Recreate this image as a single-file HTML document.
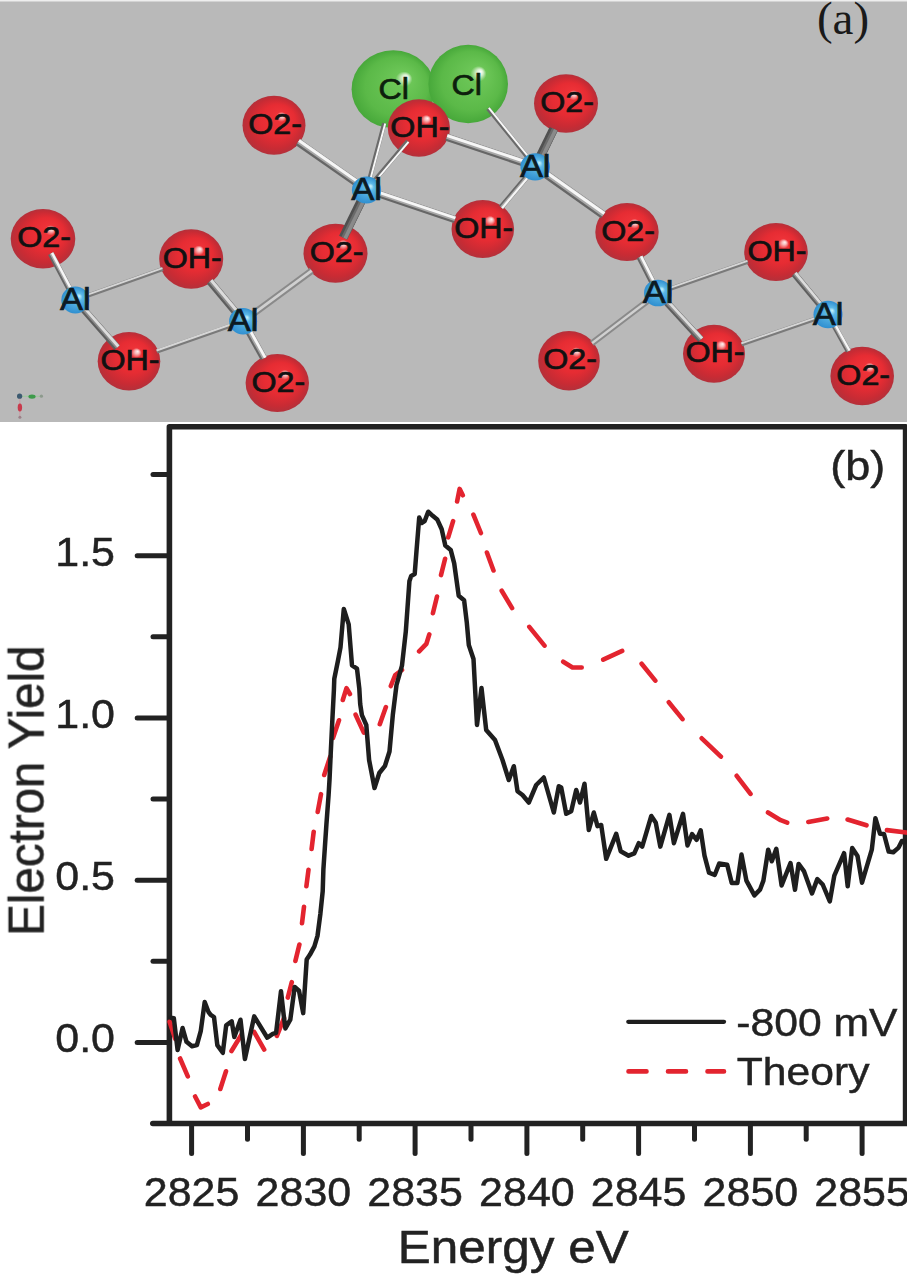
<!DOCTYPE html>
<html><head><meta charset="utf-8"><title>Figure</title>
<style>
html,body{margin:0;padding:0;background:#fff;}
body{width:907px;height:1280px;overflow:hidden;}
svg{display:block;font-family:"Liberation Sans",sans-serif;filter:blur(0.4px);}
</style></head>
<body>
<svg width="907" height="1280" viewBox="0 0 907 1280">
<defs>
<radialGradient id="go" cx="0.5" cy="0.5" r="0.5" fx="0.64" fy="0.33">
<stop offset="0" stop-color="#fff4f4"/>
<stop offset="0.07" stop-color="#f8b8b8"/>
<stop offset="0.17" stop-color="#ee3238"/>
<stop offset="0.55" stop-color="#e62c33"/>
<stop offset="0.85" stop-color="#c82b34"/>
<stop offset="1" stop-color="#b4303a"/>
</radialGradient>
<radialGradient id="gcl" cx="0.5" cy="0.5" r="0.5" fx="0.66" fy="0.34">
<stop offset="0" stop-color="#ffffff"/>
<stop offset="0.08" stop-color="#d8f0cf"/>
<stop offset="0.2" stop-color="#6cc657"/>
<stop offset="0.75" stop-color="#5bb948"/>
<stop offset="1" stop-color="#47a83a"/>
</radialGradient>
<radialGradient id="gal" cx="0.5" cy="0.5" r="0.5" fx="0.65" fy="0.35">
<stop offset="0" stop-color="#c8f2fa"/>
<stop offset="0.3" stop-color="#5cb8e6"/>
<stop offset="1" stop-color="#2f8fd0"/>
</radialGradient>
</defs>
<rect x="0" y="0" width="907" height="422" fill="#b9b9b9"/>
<rect x="0" y="0" width="907" height="1.5" fill="#eeeeee"/>
<text transform="translate(843,34)" text-anchor="middle" font-family="Liberation Serif, serif" font-size="47" fill="#1a1a1a">(a)</text>
<ellipse cx="393.3" cy="89.2" rx="41.7" ry="38.9" fill="url(#gcl)"/>
<ellipse cx="468.2" cy="84.0" rx="39.8" ry="39.3" fill="url(#gcl)"/>
<ellipse cx="274.0" cy="125.3" rx="31.5" ry="29.5" fill="url(#go)"/>
<ellipse cx="418.9" cy="128.0" rx="31.1" ry="28.8" fill="url(#go)"/>
<ellipse cx="566.0" cy="103.5" rx="32.0" ry="29.2" fill="url(#go)"/>
<ellipse cx="43.0" cy="238.8" rx="32.3" ry="29.8" fill="url(#go)"/>
<ellipse cx="191.2" cy="259.0" rx="32.0" ry="29.8" fill="url(#go)"/>
<ellipse cx="335.5" cy="253.2" rx="32.0" ry="29.5" fill="url(#go)"/>
<ellipse cx="482.8" cy="229.0" rx="31.3" ry="29.0" fill="url(#go)"/>
<ellipse cx="627.0" cy="232.0" rx="31.7" ry="29.0" fill="url(#go)"/>
<ellipse cx="776.0" cy="252.0" rx="31.8" ry="29.0" fill="url(#go)"/>
<ellipse cx="129.0" cy="361.2" rx="31.3" ry="29.2" fill="url(#go)"/>
<ellipse cx="277.3" cy="383.0" rx="31.7" ry="29.0" fill="url(#go)"/>
<ellipse cx="569.0" cy="360.7" rx="30.8" ry="29.7" fill="url(#go)"/>
<ellipse cx="714.0" cy="353.8" rx="31.0" ry="29.0" fill="url(#go)"/>
<ellipse cx="862.2" cy="376.0" rx="31.8" ry="29.3" fill="url(#go)"/>
<line x1="75.30" y1="300.00" x2="50.78" y2="253.54" stroke="#666666" stroke-width="6.00"/>
<line x1="76.10" y1="299.58" x2="51.57" y2="253.12" stroke="#a8a8a8" stroke-width="4.20"/>
<line x1="76.57" y1="299.33" x2="52.05" y2="252.86" stroke="#f6f6f6" stroke-width="2.40"/>
<line x1="75.30" y1="300.00" x2="162.78" y2="269.05" stroke="#7a7a7a" stroke-width="4.30"/>
<line x1="74.97" y1="299.07" x2="162.45" y2="268.13" stroke="#d6d6d6" stroke-width="1.94"/>
<line x1="75.30" y1="300.00" x2="117.10" y2="347.64" stroke="#5e5e5e" stroke-width="7.00"/>
<line x1="76.09" y1="299.31" x2="117.89" y2="346.95" stroke="#8c8c8c" stroke-width="4.90"/>
<line x1="76.56" y1="298.89" x2="118.37" y2="346.53" stroke="#dcdcdc" stroke-width="2.80"/>
<line x1="243.10" y1="321.20" x2="209.85" y2="281.35" stroke="#5e5e5e" stroke-width="7.50"/>
<line x1="243.96" y1="320.48" x2="210.72" y2="280.63" stroke="#8c8c8c" stroke-width="5.25"/>
<line x1="244.48" y1="320.05" x2="211.23" y2="280.20" stroke="#dcdcdc" stroke-width="3.00"/>
<line x1="243.10" y1="321.20" x2="156.83" y2="351.44" stroke="#7a7a7a" stroke-width="4.30"/>
<line x1="242.77" y1="320.27" x2="156.51" y2="350.51" stroke="#d6d6d6" stroke-width="1.94"/>
<line x1="243.10" y1="321.20" x2="311.74" y2="270.68" stroke="#d0d0d0" stroke-width="4.00"/>
<line x1="244.52" y1="323.13" x2="313.16" y2="272.62" stroke="#8a8a8a" stroke-width="2.00"/>
<line x1="241.68" y1="319.27" x2="310.32" y2="268.75" stroke="#8a8a8a" stroke-width="2.00"/>
<line x1="243.10" y1="321.20" x2="263.70" y2="358.42" stroke="#666666" stroke-width="7.00"/>
<line x1="244.02" y1="320.69" x2="264.62" y2="357.91" stroke="#a8a8a8" stroke-width="4.90"/>
<line x1="244.57" y1="320.39" x2="265.17" y2="357.61" stroke="#f6f6f6" stroke-width="2.80"/>
<line x1="366.50" y1="190.00" x2="297.98" y2="142.07" stroke="#666666" stroke-width="7.50"/>
<line x1="367.14" y1="189.08" x2="298.62" y2="141.15" stroke="#a8a8a8" stroke-width="5.25"/>
<line x1="367.53" y1="188.53" x2="299.01" y2="140.60" stroke="#f6f6f6" stroke-width="3.00"/>
<line x1="366.50" y1="190.00" x2="384.27" y2="123.18" stroke="#6a6a6a" stroke-width="4.30"/>
<line x1="367.45" y1="190.25" x2="385.22" y2="123.43" stroke="#f8f8f8" stroke-width="1.94"/>
<line x1="366.50" y1="190.00" x2="407.78" y2="141.15" stroke="#6a6a6a" stroke-width="4.30"/>
<line x1="367.25" y1="190.63" x2="408.53" y2="141.79" stroke="#f8f8f8" stroke-width="1.94"/>
<line x1="366.50" y1="190.00" x2="454.84" y2="219.62" stroke="#666666" stroke-width="7.00"/>
<line x1="366.83" y1="189.00" x2="455.17" y2="218.63" stroke="#a8a8a8" stroke-width="4.90"/>
<line x1="367.03" y1="188.41" x2="455.37" y2="218.03" stroke="#f6f6f6" stroke-width="2.80"/>
<line x1="366.50" y1="190.00" x2="343.15" y2="237.61" stroke="#505050" stroke-width="9.00"/>
<line x1="367.71" y1="190.59" x2="344.36" y2="238.20" stroke="#6a6a6a" stroke-width="6.30"/>
<line x1="368.44" y1="190.95" x2="345.09" y2="238.56" stroke="#8a8a8a" stroke-width="3.60"/>
<line x1="535.20" y1="166.80" x2="446.70" y2="137.27" stroke="#666666" stroke-width="7.50"/>
<line x1="535.56" y1="165.73" x2="447.05" y2="136.21" stroke="#a8a8a8" stroke-width="5.25"/>
<line x1="535.77" y1="165.09" x2="447.27" y2="135.57" stroke="#f6f6f6" stroke-width="3.00"/>
<line x1="535.20" y1="166.80" x2="488.08" y2="108.56" stroke="#6a6a6a" stroke-width="4.30"/>
<line x1="535.96" y1="166.18" x2="488.84" y2="107.94" stroke="#f8f8f8" stroke-width="1.94"/>
<line x1="535.20" y1="166.80" x2="553.66" y2="128.85" stroke="#505050" stroke-width="9.00"/>
<line x1="536.41" y1="167.39" x2="554.88" y2="129.44" stroke="#6a6a6a" stroke-width="6.30"/>
<line x1="537.14" y1="167.75" x2="555.61" y2="129.80" stroke="#8a8a8a" stroke-width="3.60"/>
<line x1="535.20" y1="166.80" x2="501.10" y2="207.28" stroke="#666666" stroke-width="5.50"/>
<line x1="535.83" y1="167.33" x2="501.73" y2="207.81" stroke="#a8a8a8" stroke-width="3.85"/>
<line x1="536.21" y1="167.65" x2="502.11" y2="208.13" stroke="#f6f6f6" stroke-width="2.20"/>
<line x1="535.20" y1="166.80" x2="603.21" y2="215.11" stroke="#666666" stroke-width="8.00"/>
<line x1="535.89" y1="165.82" x2="603.91" y2="214.13" stroke="#a8a8a8" stroke-width="5.60"/>
<line x1="536.31" y1="165.23" x2="604.32" y2="213.54" stroke="#f6f6f6" stroke-width="3.20"/>
<line x1="658.00" y1="293.00" x2="639.70" y2="256.98" stroke="#666666" stroke-width="6.50"/>
<line x1="658.87" y1="292.56" x2="640.57" y2="256.54" stroke="#a8a8a8" stroke-width="4.55"/>
<line x1="659.39" y1="292.29" x2="641.09" y2="256.28" stroke="#f6f6f6" stroke-width="2.60"/>
<line x1="658.00" y1="293.00" x2="747.77" y2="261.81" stroke="#7a7a7a" stroke-width="4.30"/>
<line x1="657.68" y1="292.07" x2="747.45" y2="260.88" stroke="#d6d6d6" stroke-width="1.94"/>
<line x1="658.00" y1="293.00" x2="591.97" y2="343.23" stroke="#d0d0d0" stroke-width="3.50"/>
<line x1="659.30" y1="294.71" x2="593.27" y2="344.94" stroke="#8a8a8a" stroke-width="2.00"/>
<line x1="656.70" y1="291.29" x2="590.67" y2="341.51" stroke="#8a8a8a" stroke-width="2.00"/>
<line x1="658.00" y1="293.00" x2="700.85" y2="339.52" stroke="#5e5e5e" stroke-width="7.00"/>
<line x1="658.77" y1="292.29" x2="701.62" y2="338.81" stroke="#8c8c8c" stroke-width="4.90"/>
<line x1="659.24" y1="291.86" x2="702.08" y2="338.38" stroke="#dcdcdc" stroke-width="2.80"/>
<line x1="828.00" y1="314.50" x2="741.63" y2="344.27" stroke="#7a7a7a" stroke-width="4.30"/>
<line x1="827.68" y1="313.57" x2="741.31" y2="343.34" stroke="#d6d6d6" stroke-width="1.94"/>
<line x1="828.00" y1="314.50" x2="794.26" y2="273.95" stroke="#5e5e5e" stroke-width="6.50"/>
<line x1="828.75" y1="313.88" x2="795.01" y2="273.32" stroke="#8c8c8c" stroke-width="4.55"/>
<line x1="829.20" y1="313.50" x2="795.46" y2="272.95" stroke="#dcdcdc" stroke-width="2.60"/>
<line x1="828.00" y1="314.50" x2="848.42" y2="351.23" stroke="#666666" stroke-width="5.50"/>
<line x1="828.72" y1="314.10" x2="849.15" y2="350.83" stroke="#a8a8a8" stroke-width="3.85"/>
<line x1="829.15" y1="313.86" x2="849.58" y2="350.59" stroke="#f6f6f6" stroke-width="2.20"/>
<text transform="translate(393.8,88.2) scale(1.075,1)" x="0" y="10.8" text-anchor="middle" font-size="30" fill="#0d1f0d" stroke="#0d1f0d" stroke-width="0.7">Cl</text>
<text transform="translate(466.7,84.5) scale(1.075,1)" x="0" y="10.8" text-anchor="middle" font-size="30" fill="#0d1f0d" stroke="#0d1f0d" stroke-width="0.7">Cl</text>
<text transform="translate(275.0,123.0) scale(1.075,1)" x="0" y="10.8" text-anchor="middle" font-size="30" fill="#111" stroke="#111" stroke-width="0.7">O2-</text>
<text transform="translate(419.9,125.7) scale(1.075,1)" x="0" y="10.8" text-anchor="middle" font-size="30" fill="#111" stroke="#111" stroke-width="0.7">OH-</text>
<text transform="translate(567.0,101.2) scale(1.075,1)" x="0" y="10.8" text-anchor="middle" font-size="30" fill="#111" stroke="#111" stroke-width="0.7">O2-</text>
<text transform="translate(44.0,236.5) scale(1.075,1)" x="0" y="10.8" text-anchor="middle" font-size="30" fill="#111" stroke="#111" stroke-width="0.7">O2-</text>
<text transform="translate(192.2,256.7) scale(1.075,1)" x="0" y="10.8" text-anchor="middle" font-size="30" fill="#111" stroke="#111" stroke-width="0.7">OH-</text>
<text transform="translate(336.5,250.9) scale(1.075,1)" x="0" y="10.8" text-anchor="middle" font-size="30" fill="#111" stroke="#111" stroke-width="0.7">O2-</text>
<text transform="translate(483.8,226.7) scale(1.075,1)" x="0" y="10.8" text-anchor="middle" font-size="30" fill="#111" stroke="#111" stroke-width="0.7">OH-</text>
<text transform="translate(628.0,229.7) scale(1.075,1)" x="0" y="10.8" text-anchor="middle" font-size="30" fill="#111" stroke="#111" stroke-width="0.7">O2-</text>
<text transform="translate(777.0,249.7) scale(1.075,1)" x="0" y="10.8" text-anchor="middle" font-size="30" fill="#111" stroke="#111" stroke-width="0.7">OH-</text>
<text transform="translate(130.0,358.9) scale(1.075,1)" x="0" y="10.8" text-anchor="middle" font-size="30" fill="#111" stroke="#111" stroke-width="0.7">OH-</text>
<text transform="translate(278.3,380.7) scale(1.075,1)" x="0" y="10.8" text-anchor="middle" font-size="30" fill="#111" stroke="#111" stroke-width="0.7">O2-</text>
<text transform="translate(570.0,358.4) scale(1.075,1)" x="0" y="10.8" text-anchor="middle" font-size="30" fill="#111" stroke="#111" stroke-width="0.7">O2-</text>
<text transform="translate(715.0,351.5) scale(1.075,1)" x="0" y="10.8" text-anchor="middle" font-size="30" fill="#111" stroke="#111" stroke-width="0.7">OH-</text>
<text transform="translate(863.2,373.7) scale(1.075,1)" x="0" y="10.8" text-anchor="middle" font-size="30" fill="#111" stroke="#111" stroke-width="0.7">O2-</text>
<ellipse cx="366.5" cy="190.0" rx="14.6" ry="13.4" fill="url(#gal)"/>
<text transform="translate(366.5,188.5) scale(1.075,1)" x="0" y="11.5" text-anchor="middle" font-size="32" fill="#0c1a22" stroke="#0c1a22" stroke-width="0.7">Al</text>
<ellipse cx="243.1" cy="321.2" rx="14.0" ry="13.3" fill="url(#gal)"/>
<text transform="translate(243.1,319.7) scale(1.075,1)" x="0" y="11.5" text-anchor="middle" font-size="32" fill="#0c1a22" stroke="#0c1a22" stroke-width="0.7">Al</text>
<ellipse cx="75.3" cy="300.0" rx="14.0" ry="13.5" fill="url(#gal)"/>
<text transform="translate(75.3,298.5) scale(1.075,1)" x="0" y="11.5" text-anchor="middle" font-size="32" fill="#0c1a22" stroke="#0c1a22" stroke-width="0.7">Al</text>
<ellipse cx="535.2" cy="166.8" rx="14.8" ry="13.6" fill="url(#gal)"/>
<text transform="translate(535.2,165.3) scale(1.075,1)" x="0" y="11.5" text-anchor="middle" font-size="32" fill="#0c1a22" stroke="#0c1a22" stroke-width="0.7">Al</text>
<ellipse cx="658.0" cy="293.0" rx="14.0" ry="13.3" fill="url(#gal)"/>
<text transform="translate(658.0,291.5) scale(1.075,1)" x="0" y="11.5" text-anchor="middle" font-size="32" fill="#0c1a22" stroke="#0c1a22" stroke-width="0.7">Al</text>
<ellipse cx="828.0" cy="314.5" rx="14.5" ry="13.8" fill="url(#gal)"/>
<text transform="translate(828.0,313.0) scale(1.075,1)" x="0" y="11.5" text-anchor="middle" font-size="32" fill="#0c1a22" stroke="#0c1a22" stroke-width="0.7">Al</text>
<g>
<line x1="20" y1="396.3" x2="41" y2="396.3" stroke="#9fc79f" stroke-width="1.2"/>
<line x1="19.8" y1="396" x2="19.8" y2="417" stroke="#c9a0a8" stroke-width="1.2"/>
<ellipse cx="32" cy="396.6" rx="3.6" ry="2.2" fill="#3d9a4a"/>
<circle cx="41.4" cy="396.2" r="1.6" fill="#8d9a8d"/>
<ellipse cx="19.9" cy="407.6" rx="2.2" ry="4" fill="#c83a4c"/>
<circle cx="19.9" cy="417.3" r="1.5" fill="#9a8088"/>
<circle cx="19.6" cy="396.2" r="2.6" fill="#3c5a70"/>
</g>
<path d="M169.4,1123.5 L169.4,426.8 L905.6,426.8 L905.6,1123.5" fill="none" stroke="#222" stroke-width="5.6" stroke-linejoin="round"/>
<line x1="152.8" y1="1123.5" x2="907" y2="1123.5" stroke="#222" stroke-width="5.6" stroke-linecap="round"/>
<line x1="137.2" y1="1042.4" x2="169.4" y2="1042.4" stroke="#222" stroke-width="5" stroke-linecap="round"/>
<line x1="153.0" y1="961.3" x2="169.4" y2="961.3" stroke="#222" stroke-width="5" stroke-linecap="round"/>
<line x1="137.2" y1="880.2" x2="169.4" y2="880.2" stroke="#222" stroke-width="5" stroke-linecap="round"/>
<line x1="153.0" y1="799.0" x2="169.4" y2="799.0" stroke="#222" stroke-width="5" stroke-linecap="round"/>
<line x1="137.2" y1="717.9" x2="169.4" y2="717.9" stroke="#222" stroke-width="5" stroke-linecap="round"/>
<line x1="153.0" y1="636.8" x2="169.4" y2="636.8" stroke="#222" stroke-width="5" stroke-linecap="round"/>
<line x1="137.2" y1="555.7" x2="169.4" y2="555.7" stroke="#222" stroke-width="5" stroke-linecap="round"/>
<line x1="153.0" y1="474.5" x2="169.4" y2="474.5" stroke="#222" stroke-width="5" stroke-linecap="round"/>
<line x1="191.6" y1="1123.5" x2="191.6" y2="1153.5" stroke="#222" stroke-width="5" stroke-linecap="round"/>
<line x1="247.5" y1="1123.5" x2="247.5" y2="1139.2" stroke="#222" stroke-width="5" stroke-linecap="round"/>
<line x1="303.4" y1="1123.5" x2="303.4" y2="1153.5" stroke="#222" stroke-width="5" stroke-linecap="round"/>
<line x1="359.2" y1="1123.5" x2="359.2" y2="1139.2" stroke="#222" stroke-width="5" stroke-linecap="round"/>
<line x1="415.1" y1="1123.5" x2="415.1" y2="1153.5" stroke="#222" stroke-width="5" stroke-linecap="round"/>
<line x1="471.0" y1="1123.5" x2="471.0" y2="1139.2" stroke="#222" stroke-width="5" stroke-linecap="round"/>
<line x1="526.9" y1="1123.5" x2="526.9" y2="1153.5" stroke="#222" stroke-width="5" stroke-linecap="round"/>
<line x1="582.7" y1="1123.5" x2="582.7" y2="1139.2" stroke="#222" stroke-width="5" stroke-linecap="round"/>
<line x1="638.6" y1="1123.5" x2="638.6" y2="1153.5" stroke="#222" stroke-width="5" stroke-linecap="round"/>
<line x1="694.5" y1="1123.5" x2="694.5" y2="1139.2" stroke="#222" stroke-width="5" stroke-linecap="round"/>
<line x1="750.4" y1="1123.5" x2="750.4" y2="1153.5" stroke="#222" stroke-width="5" stroke-linecap="round"/>
<line x1="806.2" y1="1123.5" x2="806.2" y2="1139.2" stroke="#222" stroke-width="5" stroke-linecap="round"/>
<line x1="862.1" y1="1123.5" x2="862.1" y2="1153.5" stroke="#222" stroke-width="5" stroke-linecap="round"/>
<text transform="translate(115,1052.4) scale(1.075,1)" text-anchor="end" font-size="40" fill="#222" stroke="#222" stroke-width="0.45">0.0</text>
<text transform="translate(115,890.2) scale(1.075,1)" text-anchor="end" font-size="40" fill="#222" stroke="#222" stroke-width="0.45">0.5</text>
<text transform="translate(115,727.9) scale(1.075,1)" text-anchor="end" font-size="40" fill="#222" stroke="#222" stroke-width="0.45">1.0</text>
<text transform="translate(115,565.7) scale(1.075,1)" text-anchor="end" font-size="40" fill="#222" stroke="#222" stroke-width="0.45">1.5</text>
<text transform="translate(191.6,1206.3) scale(1.075,1)" text-anchor="middle" font-size="40" fill="#222" stroke="#222" stroke-width="0.45">2825</text>
<text transform="translate(303.4,1206.3) scale(1.075,1)" text-anchor="middle" font-size="40" fill="#222" stroke="#222" stroke-width="0.45">2830</text>
<text transform="translate(415.1,1206.3) scale(1.075,1)" text-anchor="middle" font-size="40" fill="#222" stroke="#222" stroke-width="0.45">2835</text>
<text transform="translate(526.9,1206.3) scale(1.075,1)" text-anchor="middle" font-size="40" fill="#222" stroke="#222" stroke-width="0.45">2840</text>
<text transform="translate(638.6,1206.3) scale(1.075,1)" text-anchor="middle" font-size="40" fill="#222" stroke="#222" stroke-width="0.45">2845</text>
<text transform="translate(750.4,1206.3) scale(1.075,1)" text-anchor="middle" font-size="40" fill="#222" stroke="#222" stroke-width="0.45">2850</text>
<text transform="translate(862.1,1206.3) scale(1.075,1)" text-anchor="middle" font-size="40" fill="#222" stroke="#222" stroke-width="0.45">2855</text>
<text transform="translate(513.2,1263.2) scale(1.075,1)" text-anchor="middle" font-size="46" fill="#222" stroke="#222" stroke-width="0.5">Energy eV</text>
<text transform="translate(43.3,790.6) scale(1.06,1) rotate(-90)" text-anchor="middle" font-size="47.5" fill="#222" stroke="#222" stroke-width="0.5">Electron Yield</text>
<text transform="translate(857.8,480.0) scale(1.125,1)" text-anchor="middle" font-size="40" fill="#222" stroke="#222" stroke-width="0.45">(b)</text>
<path d="M169.6,1021.7 L175.2,1038.8 M180.1,1058.5 L187.8,1076.4 M195.1,1096.5 L200.8,1107.4 L207.8,1104.0 M220.3,1089.0 L226.0,1071.3 M231.5,1051.0 L241.7,1034.2 M254.1,1031.9 L264.2,1049.6 M276.9,1035.9 L284.0,1018.2 M287.8,997.6 L291.8,982.2 M295.4,960.9 L299.4,944.5 M302.0,923.2 L304.0,906.8 M306.4,886.2 L308.5,869.8 M311.6,849.0 L313.7,831.8 M317.7,811.9 L321.0,794.2 M324.2,775.0 L330.2,756.7 M333.0,738.0 L339.0,720.3 M342.8,700.0 L346.5,688.1 L349.9,694.0 M355.6,714.7 L363.8,732.6 M379.8,724.2 L385.9,707.1 M390.8,686.0 L395.2,675.0 L402.0,670.0 M419.1,651.4 L426.4,643.8 L429.3,634.4 M432.9,613.2 L437.0,596.5 M441.0,575.1 L445.1,558.8 M448.2,537.4 L453.1,521.1 M457.1,501.5 L459.6,488.9 L462.8,495.3 M473.4,514.7 L480.9,533.0 M486.9,552.5 L493.5,570.5 M501.7,590.7 L512.1,608.1 M529.3,626.9 L544.5,645.6 M563.2,661.7 L572.5,667.5 L581.7,667.5 M603.2,659.7 L622.2,650.9 M641.6,663.7 L655.3,680.6 M668.8,702.2 L682.5,719.1 M701.7,738.3 L720.9,756.6 M736.7,775.8 L750.5,793.9 M768.0,812.5 L780.7,820.2 L787.2,822.6 M808.3,821.9 L827.2,818.5 M847.6,819.5 L866.5,825.3 M886.9,830.1 L908.2,832.8" fill="none" stroke="#e3242f" stroke-width="4.6" stroke-linecap="round" stroke-linejoin="round"/>
<polyline points="170.5,1017.6 173.8,1018.1 177.6,1050.1 182.6,1028.0 186.5,1041.8 192.0,1046.2 196.9,1045.1 200.8,1030.8 204.7,1002.1 208.5,1012.0 210.7,1014.8 214.0,1017.0 217.3,1045.1 222.8,1052.8 226.2,1025.3 231.7,1021.4 234.3,1037.0 240.5,1019.7 244.9,1059.0 254.2,1016.4 267.3,1037.7 272.8,1033.9 276.1,1032.8 281.0,991.2 283.7,1015.3 285.4,1028.4 290.3,1019.7 294.7,986.9 299.0,990.7 303.2,1013.1 306.7,959.5 310.0,954.6 314.4,946.4 317.5,935.9 320.4,913.6 322.7,891.3 323.4,869.1 324.9,846.8 326.4,824.5 328.6,794.8 329.5,780.0 330.7,753.9 332.3,721.1 333.9,690.0 334.3,678.7 338.0,660.5 340.5,647.4 343.8,608.9 348.7,624.4 352.0,665.4 357.0,668.7 359.3,688.4 360.2,704.1 361.9,715.1 366.3,725.0 369.1,760.0 374.5,788.0 379.3,773.0 385.0,765.8 389.5,751.5 392.8,715.1 396.5,685.0 402.0,665.5 405.8,631.6 409.4,581.3 411.2,575.9 414.7,574.1 416.5,550.8 419.2,517.6 421.9,523.0 424.6,521.2 428.2,511.7 432.7,515.8 437.2,519.4 441.7,529.2 445.3,545.4 450.7,549.9 454.2,563.4 458.7,595.7 464.1,600.2 466.8,622.6 468.8,645.0 473.5,659.0 477.0,725.0 481.5,688.0 486.2,730.0 495.0,740.0 502.5,760.0 508.8,780.0 513.8,766.2 517.5,791.2 522.5,795.0 528.8,802.5 536.2,785.0 543.8,777.5 553.8,812.5 558.8,786.2 561.2,787.5 566.2,813.8 571.2,811.2 576.2,790.0 580.0,802.5 584.5,783.8 588.8,830.0 593.8,812.5 597.5,826.2 601.2,825.0 606.2,858.8 616.2,833.8 620.7,851.2 628.6,855.7 634.3,853.4 638.8,843.2 642.2,846.6 651.3,816.0 655.8,822.8 660.3,846.6 669.4,814.9 673.9,843.2 683.0,813.8 687.5,845.5 692.1,834.2 696.6,839.8 700.7,830.3 704.5,855.7 709.0,872.7 714.7,875.0 719.2,863.6 727.2,864.8 731.7,882.9 737.4,882.9 741.5,854.6 746.4,880.6 754.4,895.4 760.0,889.7 763.4,880.6 768.2,849.7 771.8,861.3 776.3,848.8 781.6,885.4 790.5,863.0 795.0,889.8 798.6,863.9 803.9,871.1 812.0,893.4 817.3,879.1 822.7,884.5 829.8,901.4 834.3,875.6 844.1,853.2 847.7,886.3 852.2,847.9 857.5,855.9 862.0,882.7 871.8,849.7 875.4,818.2 880.0,833.7 884.0,834.0 888.7,851.6 893.3,852.2 898.6,847.6 901.9,841.0 905.0,842.0" fill="none" stroke="#1e1e1e" stroke-width="4.5" stroke-linejoin="round" stroke-linecap="round"/>
<line x1="628.3" y1="1021.8" x2="724" y2="1021.8" stroke="#1e1e1e" stroke-width="4.3" stroke-linecap="round"/>
<line x1="628.5" y1="1071.4" x2="724" y2="1071.4" stroke="#e3242f" stroke-width="4.6" stroke-dasharray="18 21.5" stroke-linecap="round"/>
<text transform="translate(736.3,1035.9) scale(1.075,1)" font-size="39.7" fill="#222" stroke="#222" stroke-width="0.45">-800 mV</text>
<text transform="translate(736.8,1084.7) scale(1.075,1)" font-size="39.7" fill="#222" stroke="#222" stroke-width="0.45">Theory</text>
</svg>
</body></html>
